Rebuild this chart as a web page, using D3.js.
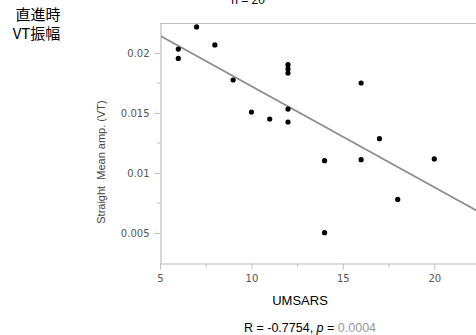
<!DOCTYPE html>
<html><head><meta charset="utf-8">
<script src="https://cdn.jsdelivr.net/npm/d3@7"></script>
<style>body{margin:0;background:#fff}svg{display:block}</style>
</head><body>
<svg id="c" width="476" height="335"></svg>
<script>
const umsars = [7, 6, 6, 8, 9, 12, 12, 12, 12, 10, 11, 12, 16, 14, 16, 17, 20, 14, 18];
const meanAmp = [0.02217, 0.02033, 0.01955, 0.02067, 0.01775, 0.01903, 0.01867, 0.01833, 0.01533, 0.01508, 0.0145, 0.01425, 0.0175, 0.01103, 0.01111, 0.01286, 0.01117, 0.00503, 0.0078];
const xTicks = [5, 10, 15, 20];
const yTicks = [0.005, 0.01, 0.015, 0.02];
const xMinor = [7.5, 12.5, 17.5];
const yMinor = [0.0075, 0.0125, 0.0175];

const svg = d3.select("#c");
const x = d3.scaleLinear().domain([5, 22.5]).range([160, 480]);
const y = d3.scaleLinear().domain([0.0025, 0.0225]).range([263, 23]);
const axisCol = "#bdbdbd", tickTxt = "#555";

// top frame line
svg.append("line").attr("x1", 160).attr("x2", 476).attr("y1", 23.5).attr("y2", 23.5)
  .attr("stroke", axisCol).attr("stroke-width", 1.2);

// x axis
const gx = svg.append("g").attr("transform", "translate(0,263.5)")
  .call(d3.axisBottom(x).tickValues(xTicks).tickFormat(d3.format("d")).tickSize(6).tickSizeOuter(0));
gx.select(".domain").attr("stroke", axisCol).attr("stroke-width", 1.2);
gx.selectAll(".tick line").attr("stroke", axisCol);
gx.selectAll("text").attr("fill", tickTxt).attr("font-family", "'DejaVu Sans', sans-serif").attr("font-size", 10).attr("dy", "0.9em");
svg.append("g").selectAll("line").data(xMinor).join("line")
  .attr("x1", d => x(d) + 0.5).attr("x2", d => x(d) + 0.5).attr("y1", 263.5).attr("y2", 267)
  .attr("stroke", axisCol);

// y axis
const gy = svg.append("g").attr("transform", "translate(160.5,0)")
  .call(d3.axisLeft(y).tickValues(yTicks).tickFormat(d => +d.toFixed(3) + "").tickSize(6).tickSizeOuter(0));
gy.select(".domain").attr("stroke", axisCol).attr("stroke-width", 1.2);
gy.selectAll(".tick line").attr("stroke", axisCol);
gy.selectAll("text").attr("fill", tickTxt).attr("font-family", "'DejaVu Sans', sans-serif").attr("font-size", 10).attr("dx", "-0.2em");
svg.append("g").selectAll("line").data(yMinor).join("line")
  .attr("x1", 157).attr("x2", 160.5).attr("y1", d => y(d)).attr("y2", d => y(d))
  .attr("stroke", axisCol);

// regression line (least squares)
const n = umsars.length;
const mx = d3.mean(umsars), my = d3.mean(meanAmp);
let sxy = 0, sxx = 0;
for (let i = 0; i < n; i++) { sxy += (umsars[i]-mx)*(meanAmp[i]-my); sxx += (umsars[i]-mx)**2; }
const slope = sxy / sxx, icpt = my - slope * mx;
const plot = svg.append("g");
plot.append("defs").append("clipPath").attr("id", "clip").append("rect")
  .attr("x", 161).attr("y", 24).attr("width", 320).attr("height", 239);
plot.append("line").attr("clip-path", "url(#clip)")
  .attr("x1", x(5)).attr("y1", y(icpt + slope * 5))
  .attr("x2", x(22.5)).attr("y2", y(icpt + slope * 22.5))
  .attr("stroke", "#8c8c8c").attr("stroke-width", 1.8);

// points
plot.selectAll("circle").data(umsars).join("circle")
  .attr("cx", (d, i) => x(d)).attr("cy", (d, i) => y(meanAmp[i]))
  .attr("r", 2.6).attr("fill", "#000");

// labels
const sans = "'Liberation Sans', Arial, sans-serif";
svg.append("text").attr("transform", "translate(105,162) rotate(-90)")
  .attr("text-anchor", "middle").attr("font-family", sans).attr("font-size", 11).attr("fill", "#444")
  .attr("xml:space", "preserve").text("Straight  Mean amp. (VT)");
svg.append("text").attr("x", 300).attr("y", 305).attr("text-anchor", "middle")
  .attr("font-family", sans).attr("font-size", 13).attr("fill", "#000").text("UMSARS");
const r = svg.append("text").attr("x", 310).attr("y", 332).attr("text-anchor", "middle")
  .attr("font-family", sans).attr("font-size", 12.5).attr("fill", "#000");
r.append("tspan").text("R = -0.7754, ");
r.append("tspan").attr("font-style", "italic").text("p");
r.append("tspan").text(" = ");
r.append("tspan").attr("fill", "#999").text("0.0004");
svg.append("text").attr("x", 248).attr("y", 4).attr("text-anchor", "middle")
  .attr("font-family", sans).attr("font-size", 12).attr("fill", "#000").text("n = 20");

const cjk = "'Noto Sans CJK JP', sans-serif";
svg.append("text").attr("x", 38).attr("y", 20).attr("text-anchor", "middle")
  .attr("font-family", cjk).attr("font-size", 15).attr("fill", "#000").text("直進時");
svg.append("text").attr("x", 36.5).attr("y", 39).attr("text-anchor", "middle")
  .attr("font-family", cjk).attr("font-size", 15).attr("fill", "#000").text("VT振幅");
</script>
</body></html>
